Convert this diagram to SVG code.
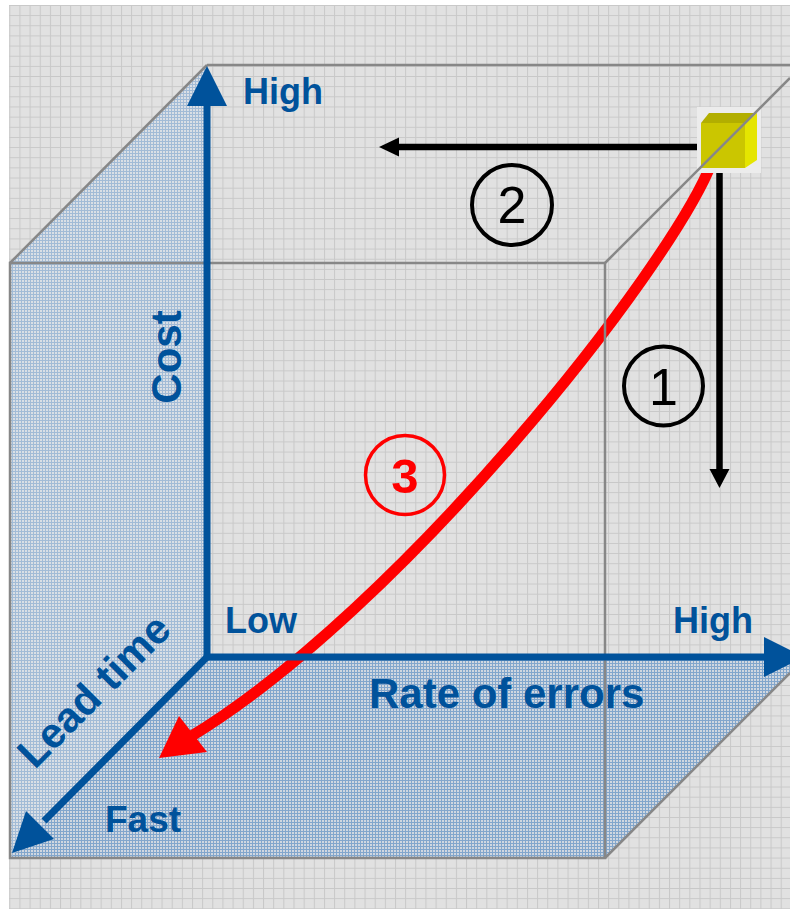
<svg xmlns="http://www.w3.org/2000/svg" width="790" height="909" viewBox="0 0 790 909">
<style>
.lbl{font-family:"Liberation Sans",Arial,sans-serif;font-weight:bold;fill:#00529b}
.num{font-family:"Liberation Sans",Arial,sans-serif;fill:#000;text-anchor:middle}
.edge{stroke:#878787;stroke-width:2.5;fill:none}
.axis{stroke:#00529b;stroke-width:7;fill:none}
.axhead{fill:#00529b}
.blk{stroke:#000;stroke-width:6.5;fill:none}
.ring{fill:none;stroke:#000;stroke-width:4}
</style>
<defs>
<pattern id="grid" patternUnits="userSpaceOnUse" x="9.3" y="5" width="10.15" height="10.15">
<rect width="10.15" height="10.15" fill="#e1e1e1"/>
<path d="M0 0.5H10.15M0.5 0V10.15" stroke="#c8c8c8" stroke-width="1"/>
</pattern>
<pattern id="wallp" patternUnits="userSpaceOnUse" width="3" height="3">
<rect width="3" height="3" fill="#dadfe5"/>
<path d="M0 0.5H3M0.5 0V3" stroke="#a2bbd6" stroke-width="1"/>
</pattern>
<pattern id="floorp" patternUnits="userSpaceOnUse" width="3" height="3">
<rect width="3" height="3" fill="#d0d7e0"/>
<path d="M0 0.5H3M0.5 0V3" stroke="#82a6cc" stroke-width="1"/>
</pattern>
</defs>
<rect width="790" height="909" fill="#ffffff"/>
<rect x="9" y="5" width="781" height="904" fill="url(#grid)"/>
<g id="left-wall"><polygon points="10,263 207,65 207,657 10,858" fill="url(#wallp)"/></g>
<g id="floor"><polygon points="10,858 207,657 790,657 790,673 605,858" fill="url(#floorp)"/></g>
<g id="connectors">
<path d="M712,162 C670,270 400,610 190,737" stroke="#ff0000" stroke-width="11" fill="none"/>
<polygon points="159,758 179,716 207,752" fill="#ff0000"/>
<line class="blk" x1="701" y1="147" x2="397" y2="147"/>
<polygon points="379,147 399,137.5 399,156.5" fill="#000"/>
<line class="blk" x1="719.5" y1="165" x2="719.5" y2="471"/>
<polygon points="719.5,488 709.5,469 729.5,469" fill="#000"/>
</g>
<g id="start-cube">
<rect x="697" y="107" width="64" height="66" fill="#ececec"/>
<rect x="701" y="123" width="44" height="45" fill="#cbc600"/>
<polygon points="701,123 709,113 757,113 745,123" fill="#b2ae00"/>
<polygon points="745,123 757,113 757,160 745,168" fill="#e5e500"/>
</g>
<g id="cube-frame">
<line class="edge" x1="207" y1="65" x2="790" y2="65"/>
<line class="edge" x1="207" y1="65" x2="10" y2="263"/>
<rect class="edge" x="10" y="263" width="595" height="595"/>
<line class="edge" x1="605" y1="263" x2="790" y2="78"/>
<line class="edge" x1="605" y1="858" x2="790" y2="673"/>
</g>
<g id="axes">
<line class="axis" x1="207" y1="660" x2="207" y2="100"/>
<polygon class="axhead" points="207,66 187,106 227,106"/>
<line class="axis" x1="204" y1="657" x2="770" y2="657"/>
<polygon class="axhead" points="804,657 764,637 764,677"/>
<line class="axis" x1="207" y1="657" x2="44" y2="821"/>
<polygon class="axhead" points="12,853 26,811 54,839"/>
</g>
<g id="step-1"><circle class="ring" cx="663.5" cy="386" r="39.5"/><text class="num" x="663.5" y="405" font-size="52">1</text></g>
<g id="step-2"><circle class="ring" cx="512" cy="205" r="40"/><text class="num" x="512" y="223" font-size="52">2</text></g>
<g id="step-3"><circle cx="405" cy="475" r="39.5" fill="none" stroke="#ff0000" stroke-width="3.5"/><text x="405" y="493" font-size="49" font-weight="bold" fill="#ff0000" text-anchor="middle" font-family="Liberation Sans, Arial, sans-serif">3</text></g>
<g id="labels">
<text class="lbl" x="243" y="104" font-size="36">High</text>
<text class="lbl" x="181" y="357" font-size="42" text-anchor="middle" transform="rotate(-90 181 357)">Cost</text>
<text class="lbl" x="225" y="633" font-size="36">Low</text>
<text class="lbl" x="673" y="633" font-size="36">High</text>
<text class="lbl" x="369" y="708" font-size="42">Rate of errors</text>
<text class="lbl" x="104" y="701" font-size="42" text-anchor="middle" transform="rotate(-45 104 701)">Lead time</text>
<text class="lbl" x="105" y="832" font-size="37">Fast</text>
</g>
</svg>
